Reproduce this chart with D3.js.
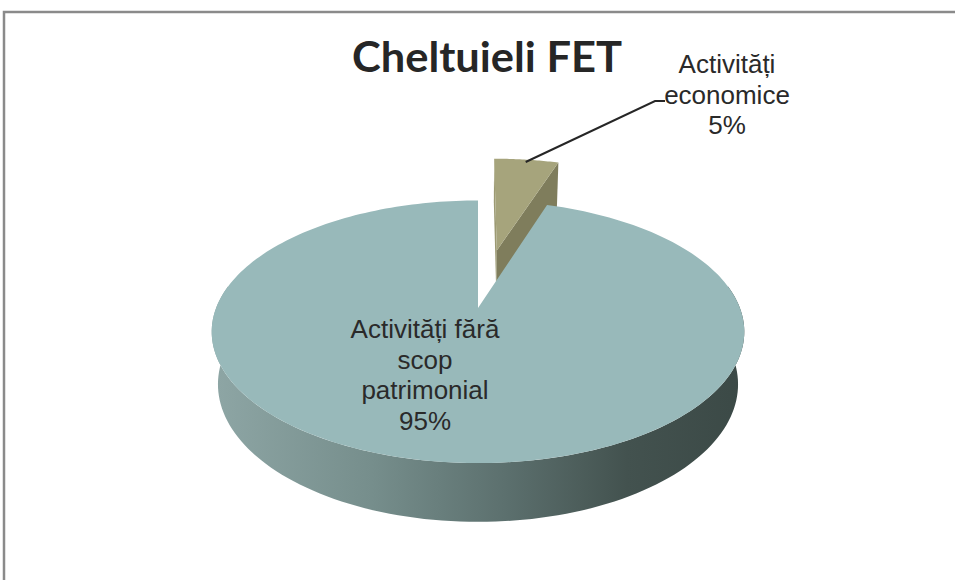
<!DOCTYPE html>
<html>
<head>
<meta charset="utf-8">
<script src="https://cdn.jsdelivr.net/npm/d3@7"></script>
<style>
  html, body { margin: 0; padding: 0; background: #fff; }
  svg { display: block; }
</style>
</head>
<body>
<script>
// DATA
const title = "Cheltuieli FET";
const categories = ["Activități economice", "Activități fără scop patrimonial"];
const values = [5, 95];
const labelLines = [
  ["Activități", "economice", "5%"],
  ["Activități fără", "scop", "patrimonial", "95%"]
];
const explode = [0.5, 0];
const topColors = ["#a6a47c", "#98b9ba"];
const faceColors = ["#9c9a73", "#7f7d5c"];

// SIZES
const width = 955, height = 580;
const cx = 478, cy = 308;       // projected pie centre
const focal = 1265, camDist = 4.83;
const tilt = 29 * Math.PI / 180;
const depth = 0.232;            // pie thickness (radius = 1)

const svg = d3.select("body").append("svg")
  .attr("width", width).attr("height", height);

// chart frame
svg.append("rect")
  .attr("x", 4).attr("y", 12)
  .attr("width", 1000).attr("height", 1000)
  .attr("fill", "none").attr("stroke", "#8a8a8a").attr("stroke-width", 2.5);

// side gradient
const defs = svg.append("defs");
const grad = defs.append("linearGradient").attr("id", "side")
  .attr("gradientUnits", "userSpaceOnUse")
  .attr("x1", 212).attr("x2", 744).attr("y1", 0).attr("y2", 0);
[[0, "#8ea6a5"], [0.3, "#768e8c"], [0.55, "#5c706e"], [0.78, "#43524f"], [1, "#3b4946"]]
  .forEach(s => grad.append("stop").attr("offset", s[0]).attr("stop-color", s[1]));

// perspective projection: X right, Y up, Z toward viewer
const project = (X, Y, Z) => {
  const up = Y * Math.cos(tilt) - Z * Math.sin(tilt);
  const toward = Y * Math.sin(tilt) + Z * Math.cos(tilt);
  const dist = camDist - toward;
  return [cx + focal * X / dist, cy - focal * up / dist];
};
// point on slice at angle a (clockwise from 12 o'clock), radius r, height y
const pt = (d, a, r, y) => {
  const X = d.ox + r * Math.sin(a);
  const Z = d.oz - r * Math.cos(a);
  return project(X, y, Z);
};
const arcPts = (d, a0, a1, y, n = 120) =>
  d3.range(n + 1).map(i => pt(d, a0 + (a1 - a0) * i / n, 1, y));

const line = d3.line();

const pie = d3.pie().sort(null).startAngle(0).endAngle(2 * Math.PI);
const slices = pie(values).map((d, i) => {
  const mid = (d.startAngle + d.endAngle) / 2;
  return Object.assign(d, {
    i,
    ox: explode[i] * Math.sin(mid),
    oz: -explode[i] * Math.cos(mid)
  });
});

const g = svg.append("g");

// exploded slice (behind the big one)
const small = slices[0];
const apexTop = pt(small, 0, 0, 0), apexBot = pt(small, 0, 0, -depth);
// radial face at start angle
g.append("path")
  .attr("d", line([apexTop, pt(small, small.startAngle, 1, 0),
    pt(small, small.startAngle, 1, -depth), apexBot]) + "Z")
  .attr("fill", faceColors[0]);
// radial face at end angle
g.append("path")
  .attr("d", line([apexTop, pt(small, small.endAngle, 1, 0),
    pt(small, small.endAngle, 1, -depth), apexBot]) + "Z")
  .attr("fill", faceColors[1]);
// top
g.append("path")
  .attr("d", line([apexTop, ...arcPts(small, small.startAngle, small.endAngle, 0, 30)]) + "Z")
  .attr("fill", topColors[0]);

// big slice: front wall then top
const big = slices[1];
const a0 = 80 * Math.PI / 180, a1 = 280 * Math.PI / 180;
const wall = [...arcPts(big, a0, a1, 0), ...arcPts(big, a0, a1, -depth).reverse()];
g.append("path").attr("d", line(wall) + "Z").attr("fill", "url(#side)");
g.append("path")
  .attr("d", line([pt(big, 0, 0, 0), ...arcPts(big, big.startAngle, big.endAngle, 0, 240)]) + "Z")
  .attr("fill", topColors[1]);

// title
svg.append("text")
  .attr("x", 487).attr("y", 72)
  .attr("text-anchor", "middle")
  .attr("font-family", "Lato, 'Open Sans', sans-serif")
  .attr("font-weight", "bold")
  .attr("font-size", 42)
  .attr("textLength", 270).attr("lengthAdjust", "spacingAndGlyphs")
  .attr("fill", "#262626")
  .text(title);

// leader line for the small slice
const smallMid = (small.startAngle + small.endAngle) / 2;
const anchor = pt(small, smallMid, 0.97, 0);
svg.append("path")
  .attr("d", line([anchor, [655, 101], [665, 101]]))
  .attr("fill", "none").attr("stroke", "#262626").attr("stroke-width", 2);

// data labels
const labelPos = [[727, 73], [425, 338]];
labelLines.forEach((lines, i) => {
  const t = svg.append("text")
    .attr("text-anchor", "middle")
    .attr("font-family", "'Liberation Sans', Arial, sans-serif")
    .attr("font-size", 26)
    .attr("fill", "#2a2a2a");
  lines.forEach((s, k) => {
    t.append("tspan").attr("x", labelPos[i][0]).attr("y", labelPos[i][1] + k * 30.7).text(s);
  });
});
</script>
</body>
</html>
